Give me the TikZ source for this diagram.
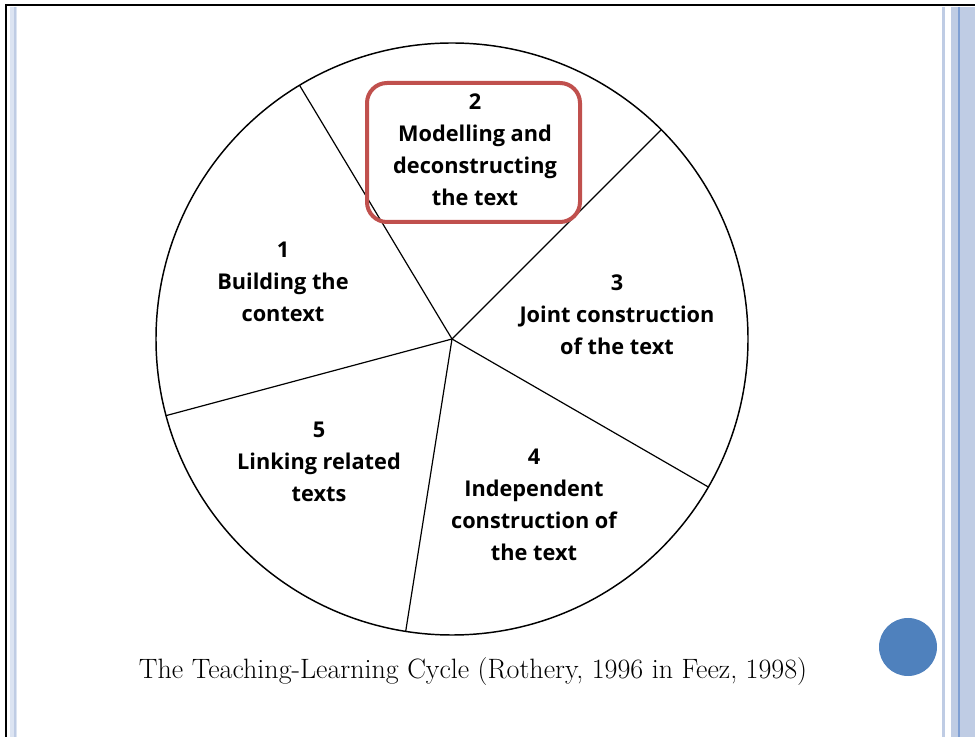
\documentclass[tikz,border=0pt]{standalone}
\usepackage{fontspec}
\newfontfamily\segfont{Open Sans}
\definecolor{boxred}{HTML}{C0504D}
\definecolor{dotblue}{HTML}{4F81BD}
\definecolor{barblue}{HTML}{BFCCE4}
\definecolor{barline}{HTML}{7F9FD3}
\definecolor{paleblue}{HTML}{DCE4F2}

\tikzset{
  seg/.style={align=center, font=\segfont\bfseries\fontsize{16.3}{24}\selectfont},
}

\begin{document}
\begin{tikzpicture}[x=0.75pt, y=-0.75pt]
    \useasboundingbox (0,0) rectangle (975,737);
    \fill [white] (0,0) rectangle (975,737);
    % slide frame
    \fill [paleblue] (10,7) rectangle (17,737);
    \draw [barblue, line width=1.5pt] (15,7) -- (15,737);
    \fill [barblue] (941.5,7) rectangle (944.5,737);
    \fill [barblue] (951,7) rectangle (975,737);
    \draw [barline, line width=1.2pt] (959,7) -- (959,737);
    \draw [line width=2pt] (6,737) -- (6,5) -- (975,5);
    % pie
    \coordinate (ctr) at (452,339);
    \draw [line width=1.1pt] (ctr) circle (222pt);
    \foreach \a in {121,45,-30,-99,-165}
        \draw [line width=0.9pt] (ctr) -- ++(\a:222pt);
    \draw [boxred, line width=3pt, rounded corners=15pt] (367,83) rectangle (580,222);
    \node (s1) at (283,282) [seg] {1\\Building the\\context};
    \node (s2) at (475,150) [seg] {2\\Modelling and\\deconstructing\\the text};
    \node (s3) at (617,315) [seg] {3\\Joint construction\\of the text};
    \node (s4) at (534,505) [seg] {4\\Independent\\construction of\\the text};
    \node (s5) at (319,462) [seg] {5\\Linking related\\texts};
    \node (cap) at (473,672) {\fontsize{21}{24}\selectfont The Teaching-Learning Cycle (Rothery, 1996 in Feez, 1998)};
    \fill [dotblue] (908,647) circle (21.75pt);
\end{tikzpicture}
\end{document}
